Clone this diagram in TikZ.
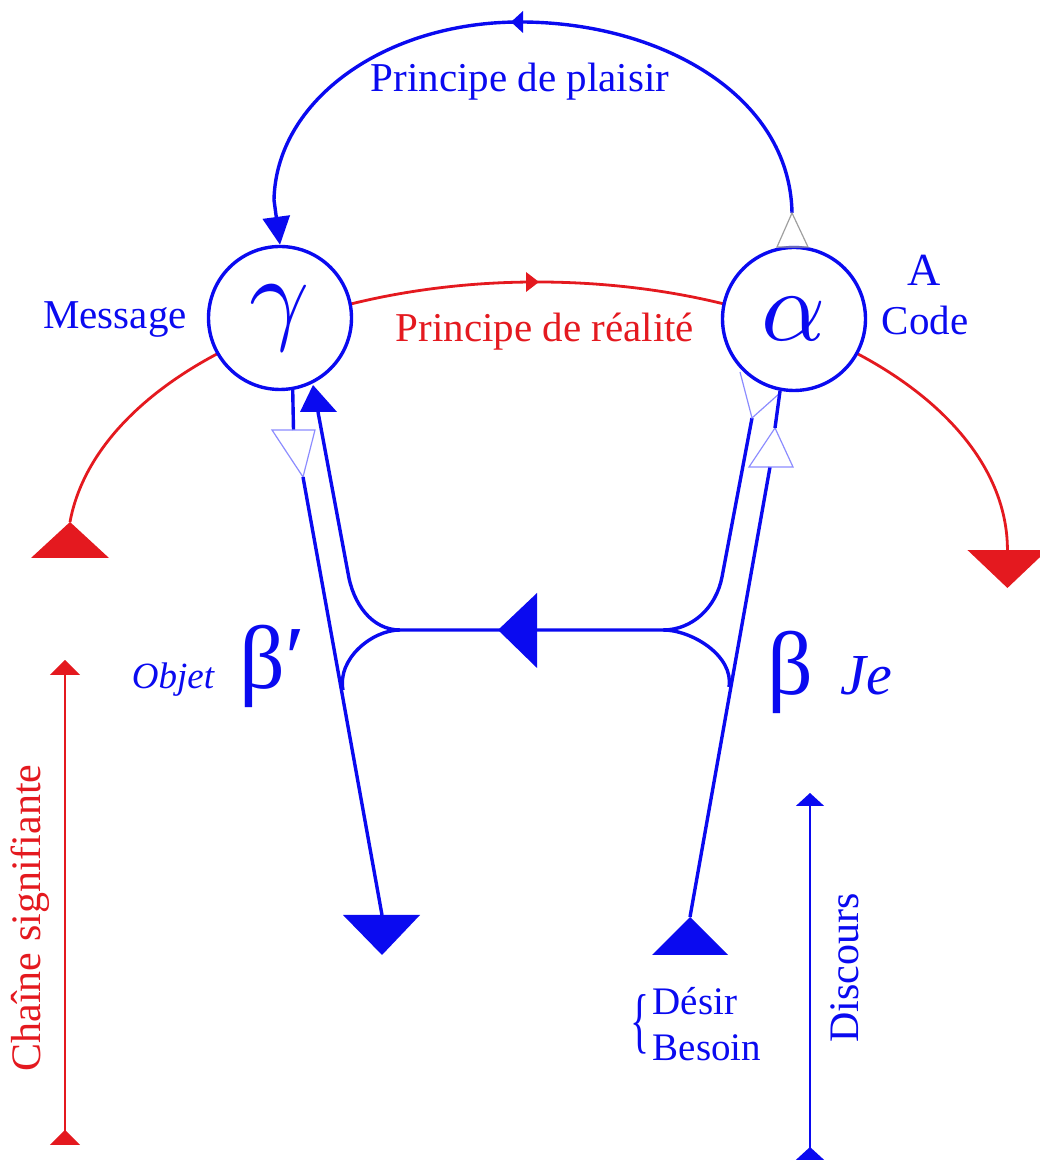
\documentclass[tikz,border=0pt]{standalone}
\usepackage{fontspec}
\setmainfont{Liberation Serif}
\usepackage{graphicx}
\usepackage{tikz}
\usetikzlibrary{arrows.meta, positioning, calc}
\definecolor{mBlue}{HTML}{0A0AF0}
\definecolor{mRed}{HTML}{E4191F}
\colorlet{mPale}{blue!45}
\colorlet{mGrey}{gray!75}

\tikzset{
  lbl/.style={font=\fontsize{41}{45}\selectfont, inner sep=0pt},
  greek/.style={circle, draw=mBlue, line width=3.4pt, fill=white, minimum size=143pt,
                inner sep=0pt, text=mBlue},
  wire/.style={mBlue, line width=3.4pt},
  hollow/.style={line width=1.2pt, line join=miter},
}

\begin{document}
\begin{tikzpicture}[x=1pt, y=1pt]
  \useasboundingbox (0,0) rectangle (1040,1164);
  % principe de realite, under the circles
  \coordinate (rl) at (70,642);
  \draw[mRed, line width=2.8pt] (rl) arc[start angle=174, end angle=0, x radius=470pt, y radius=268pt] coordinate (rr);
  \fill[mRed] (539,882) -- (526,892) -- (526,872) -- cycle;
  \fill[mRed] (rl) -- ++(-39,-36) -- ++(78,0) -- cycle;
  \fill[mRed] (rr) -- ++(-40,0) -- ++(40,-38) -- ++(40,38) -- cycle;

  \node[greek] (gamma) at (280,846) {\scalebox{10.5}{$\gamma$}};
  \node[greek] (alpha) at (794,845) {\scalebox{10}{$\alpha$}};

  % principe de plaisir
  \coordinate (pR) at (792,951);
  \coordinate (pT) at (520,1142);
  \coordinate (pL) at (274,964);
  \draw[wire, -{Triangle[width=27pt, length=28pt]}] (pR) .. controls (790,1069) and (660,1142) .. (pT)
      .. controls (385,1142) and (276,1064) .. (pL) -- (gamma.north);
  \fill[mBlue] (511,1142) -- (523,1153) -- (523,1131) -- cycle;
  \draw[mGrey, hollow] (pR) -- (777,917) -- (808,917) -- cycle;

  % gamma side
  \coordinate (aTop) at (293.5,734);
  \coordinate (aTip) at (303,687);
  \coordinate (aEnd) at (382,249);
  \coordinate (aJoin) at (343,474);
  \coordinate (bBase) at (318,752);
  \coordinate (bBend) at (348,591);
  \coordinate (lCusp) at (400,534);
  % alpha side
  \coordinate (cTip) at (752,746);
  \coordinate (cBend) at (722,587);
  \coordinate (rCusp) at (663,534);
  \coordinate (dJoin) at (729,477);
  \coordinate (dBase) at (770,697);
  \coordinate (dTip) at (775,736);
  \coordinate (dEnd) at (690,247);

  \draw[wire] (gamma.-80) -- (aTop);
  \draw[mPale, hollow] (272,734) -- (315,734) -- (aTip) -- cycle;
  \draw[wire] (aTip) -- (aEnd);
  \fill[mBlue] (343,249) -- (420,249) -- (382,209) -- cycle;
  \fill[mBlue] (300,752) -- (337,752) -- (313,779) -- cycle;

  \draw[wire] (bBase) -- (bBend) .. controls (353,560) and (372,534) .. (lCusp)
      -- (rCusp) .. controls (692,534) and (716,556) .. (cBend) -- (cTip);
  \draw[wire] (lCusp) .. controls (372,534) and (337,505) .. (aJoin);
  \draw[wire] (rCusp) .. controls (692,534) and (734,508) .. (dJoin);
  \fill[mBlue] (498,534) -- (537,571) -- (537,496) -- cycle;

  \draw[mPale, hollow] (740,792) -- (cTip) -- (780,771);
  \draw[wire] (dEnd) -- (dBase);
  \draw[mPale, hollow] (749,697) -- (793,697) -- (dTip) -- cycle;
  \draw[wire] (dTip) -- (alpha.-101);
  \fill[mBlue] (dEnd) -- (652,209) -- (728,209) -- cycle;

  % labels
  \node[lbl, text=mBlue] (plaisir) at (520,1082) {Principe de plaisir};
  \node[lbl, text=mRed] (realite) at (545,832) {Principe de réalité};
  \node[lbl, text=mBlue] (message) at (115,844) {Message};
  \node[lbl, text=mBlue, font=\fontsize{46}{46}\selectfont] (codeA) at (924,894) {A};
  \node[lbl, text=mBlue] (code) at (925,844) {Code};
  \node[text=mBlue, font=\fontsize{90}{90}\selectfont, inner sep=0pt] (betap) at (272,498) {β′};
  \node[text=mBlue, font=\fontsize{37}{37}\selectfont\itshape, inner sep=0pt] (objet) at (173,484) {Objet};
  \node[text=mBlue, font=\fontsize{90}{90}\selectfont, inner sep=0pt] (beta) at (790,492) {β};
  \node[text=mBlue, font=\fontsize{58}{58}\selectfont\itshape, inner sep=0pt] (je) at (866,488) {Je};
  \node[text=mBlue, font=\fontsize{39}{46}\selectfont, inner sep=0pt, align=left] (desir) at (707,140)
      {Désir\\Besoin};
  \node[text=mBlue, font=\fontsize{72}{72}\selectfont, inner sep=0pt, left=3pt of desir] (brace)
      {\scalebox{0.55}[1]{\{}};

  % chaine signifiante / discours
  \coordinate (chainBot) at (65,19);
  \coordinate (chainTop) at (65,504);
  \draw[mRed, line width=1.8pt, {Triangle[reversed, width=30pt, length=15pt]}-{Triangle[width=30pt, length=15pt]}]
      (chainBot) -- (chainTop);
  \node[lbl, text=mRed, font=\fontsize{42}{42}\selectfont, rotate=90] (chaine) at (30,246) {Chaîne signifiante};
  \coordinate (discBot) at (810,4);
  \coordinate (discTop) at (810,371);
  \draw[mBlue, line width=1.8pt, {Triangle[reversed, width=28pt, length=13pt]}-{Triangle[width=28pt, length=13pt]}]
      (discBot) -- (discTop);
  \node[lbl, text=mBlue, font=\fontsize{42}{42}\selectfont, rotate=90] (discours) at (845,196) {Discours};
\end{tikzpicture}
\end{document}
